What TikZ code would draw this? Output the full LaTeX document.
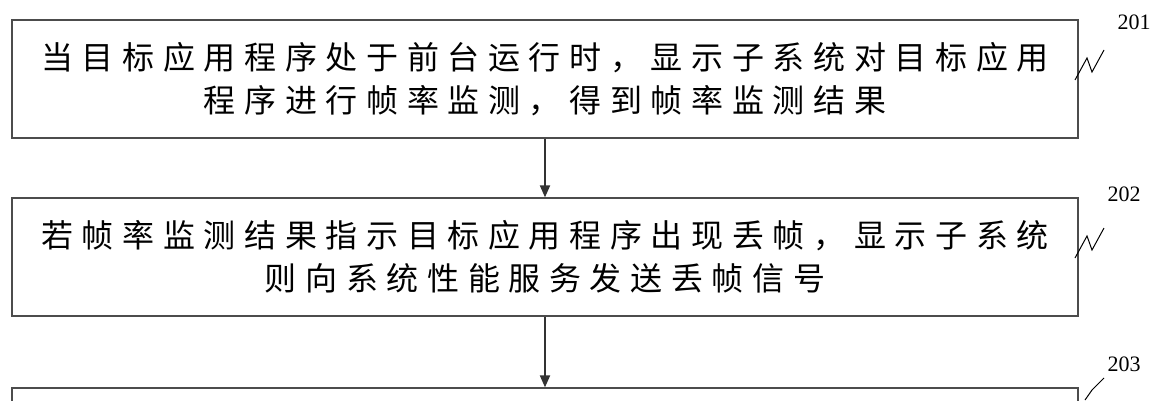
\documentclass[tikz,border=0pt]{standalone}
\usepackage{fontspec}
\setmainfont{Liberation Serif}
\newfontfamily\cjk[LetterSpace=27]{Noto Sans CJK SC}
\usetikzlibrary{arrows.meta}
\begin{document}
\begin{tikzpicture}[x=1pt,y=-1pt,
  stepbox/.style={draw=black!70,line width=1.2pt,minimum width=1066pt,minimum height=118pt,inner sep=0pt,align=center,font=\cjk\fontsize{32}{43}\selectfont},
  arr/.style={-{Triangle[length=12pt,width=10pt]},line width=1.8pt,draw=black!80},
  lbl/.style={font=\fontsize{22}{24}\selectfont},
  sq/.style={line width=1pt}]
\useasboundingbox (0,0) rectangle (1160,400);
\begin{scope}
\clip (0,0) rectangle (1160,400);
\node[stepbox] (b1) at (545,79) {当目标应用程序处于前台运行时，显示子系统对目标应用\\程序进行帧率监测，得到帧率监测结果};
\node[stepbox] (b2) at (545,257) {若帧率监测结果指示目标应用程序出现丢帧，显示子系统\\则向系统性能服务发送丢帧信号};
\node[stepbox] (b3) at (545,447) {};
\end{scope}
\draw[arr] (b1.south) -- (b2.north);
\draw[arr] (b2.south) -- (b3.north);
\node[lbl] (l1) at (1134,22) {201};
\node[lbl] (l2) at (1124,194) {202};
\node[lbl] (l3) at (1124,364) {203};
\draw[sq] (1075,80) -- (1087,58) -- (1092,72) -- (1104,50);
\draw[sq] (1075,258) -- (1087,236) -- (1092,250) -- (1104,228);
\draw[sq] (1085,400) -- (1092,390) -- (1104,378);
\end{tikzpicture}
\end{document}
